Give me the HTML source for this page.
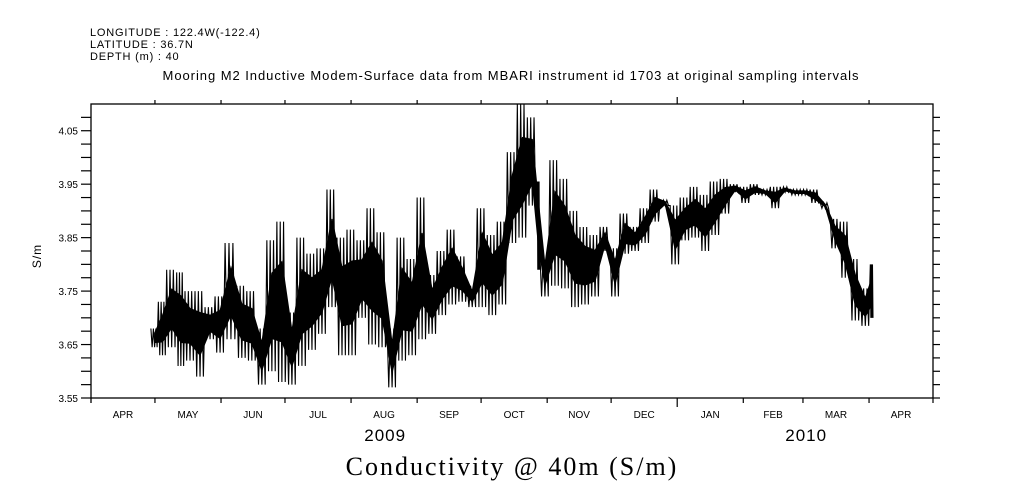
<!DOCTYPE html>
<html><head><meta charset="utf-8"><style>
html,body{margin:0;padding:0;background:#fff;}
svg{display:block;font-family:"Liberation Sans",sans-serif;}
</style></head><body>
<svg id="chart" width="1009" height="504" viewBox="0 0 1009 504" xmlns="http://www.w3.org/2000/svg">
<g font-size="11" fill="#000" letter-spacing="0.8">
<text x="90" y="36">LONGITUDE : 122.4W(-122.4)</text>
<text x="90" y="48">LATITUDE : 36.7N</text>
<text x="90" y="60">DEPTH (m) : 40</text>
</g>
<text x="511" y="80" font-size="13" text-anchor="middle" letter-spacing="0.95">Mooring M2 Inductive Modem-Surface data from MBARI instrument id 1703 at original sampling intervals</text>
<text transform="translate(41,256) rotate(-90)" font-size="12" text-anchor="middle" letter-spacing="1">S/m</text>
<text x="512" y="475" font-family="'Liberation Serif',serif" font-size="26" text-anchor="middle" letter-spacing="2">Conductivity @ 40m (S/m)</text>
<g id="axes"></g>
<g id="series"></g>
</svg>
<script>
const yTicks=[3.55,3.575,3.6,3.625,3.65,3.675,3.7,3.725,3.75,3.775,3.8,3.825,3.85,3.875,3.9,3.925,3.95,3.975,4.0,4.025,4.05,4.075];
const yLabels=["3.55","3.65","3.75","3.85","3.95","4.05"];
const monthLabels=["APR","MAY","JUN","JUL","AUG","SEP","OCT","NOV","DEC","JAN","FEB","MAR","APR"];
const monthDays=[30,31,30,31,31,30,31,30,31,31,28,31,30];
const yearLabels=["2009","2010"];
const days=[28.1,31.6,35.5,40.2,44.1,48.8,53.5,58.2,62.9,68.4,73.1,77.8,82.5,87.2,91.9,96.6,101.3,106.0,110.7,115.4,120.1,124.8,129.5,134.2,138.9,143.6,148.3,153.0,157.7,162.4,167.1,171.8,176.5,181.2,185.9,190.6,195.3,200.0,204.7,209.4,
210.6,215.3,220.0,224.7,229.4,234.1,238.8,243.5,248.2,252.9,257.6,262.3,267.0,271.7,276.4,281.1,285.8,290.5,295.2,299.9,304.6,309.3,314.0,318.7,323.3,328.0,332.7,337.4,342.1,346.8,351.5,356.2,360.9,365.6];
const hiVals=[3.68,3.73,3.79,3.785,3.75,3.75,3.72,3.74,3.84,3.76,3.75,3.68,3.845,3.88,3.71,3.85,3.82,3.83,3.94,3.85,3.865,3.845,3.905,3.86,3.68,3.85,3.81,3.925,3.78,3.825,3.865,3.815,3.76,3.905,3.855,3.88,4.01,4.10,4.075,3.955,
3.82,3.995,3.96,3.90,3.87,3.855,3.87,3.83,3.895,3.87,3.905,3.94,3.92,3.91,3.925,3.945,3.93,3.955,3.96,3.95,3.945,3.95,3.94,3.945,3.945,3.94,3.94,3.94,3.915,3.885,3.88,3.81,3.755,3.80];
const loVals=[3.645,3.63,3.645,3.61,3.62,3.59,3.66,3.635,3.66,3.625,3.62,3.575,3.60,3.58,3.575,3.61,3.64,3.67,3.72,3.63,3.63,3.70,3.65,3.645,3.57,3.62,3.63,3.66,3.67,3.705,3.725,3.73,3.72,3.72,3.705,3.725,3.84,3.85,3.91,3.79,
3.74,3.76,3.755,3.72,3.725,3.74,3.825,3.74,3.82,3.825,3.84,3.88,3.91,3.80,3.845,3.85,3.825,3.855,3.895,3.935,3.915,3.93,3.93,3.905,3.935,3.93,3.93,3.915,3.905,3.83,3.775,3.695,3.685,3.70];
const NS="http://www.w3.org/2000/svg";
const L=91,R=933,T=104,B=398,totalDays=395,yMin=3.55,yMax=4.10;
const xS=d=>L+(R-L)*d/totalDays;
const yS=v=>B-(B-T)*(v-yMin)/(yMax-yMin);
const axes=document.getElementById('axes'),series=document.getElementById('series');
function mk(tag,attrs,parent){const e=document.createElementNS(NS,tag);for(const k in attrs)e.setAttribute(k,attrs[k]);parent.appendChild(e);return e;}
const frame=mk('rect',{x:L,y:T,width:R-L,height:B-T,fill:'none',stroke:'#000','stroke-width':1.3},axes);


mk('line',{x1:L,y1:B,x2:L,y2:B+5,stroke:'#000','stroke-width':1.3},axes);
yTicks.forEach(v=>{
  const y=yS(v);
  const t=mk('line',{x1:L-10,y1:y,x2:L,y2:y,stroke:'#000','stroke-width':1.2},axes);
  
  
  const t2=mk('line',{x1:R,y1:y,x2:R+7,y2:y,stroke:'#000','stroke-width':1.2},axes);
  
  
});
yLabels.forEach(s=>{
  const tx=mk('text',{x:L-13,y:yS(parseFloat(s))+4,'font-size':10,'text-anchor':'end'},axes);
  tx.textContent=s;
  
  
});
let d=0;
monthLabels.forEach((m,i)=>{
  const x0=xS(d),x1=xS(d+monthDays[i]);
  if(i>0){
    const len=(i===9)?9:5;
    const t=mk('line',{x1:x0,y1:B,x2:x0,y2:B+len,stroke:'#000','stroke-width':1.2},axes);
    
    
    const tt=mk('line',{x1:x0,y1:T,x2:x0,y2:T-(i===9?7:4),stroke:'#000','stroke-width':1.2},axes);
    
    
  }
  const tx=mk('text',{x:(x0+x1)/2,y:418,'font-size':10,'text-anchor':'middle'},axes);
  tx.textContent=m;
  
  
  d+=monthDays[i];
});
mk('line',{x1:R,y1:B,x2:R,y2:B+5,stroke:'#000','stroke-width':1.2},axes);
const yearPos=[138,335.5];
yearLabels.forEach((s,i)=>{
  const tx=mk('text',{x:xS(yearPos[i]),y:441,'font-size':17,'text-anchor':'middle','letter-spacing':1},axes);
  tx.textContent=s;
  
  
});
// dense core band (smooth, through bin centres)
let up=[],dn=[];
for(let i=0;i<days.length;i++){
  const d0=days[i],d1=(i+1<days.length)?days[i+1]:days[i]+1.5;
  const mid=(hiVals[i]+loVals[i])/2,half=(hiVals[i]-loVals[i])/2*0.5;
  const xc=xS((d0+d1)/2).toFixed(2);
  up.push(xc+','+yS(mid+half).toFixed(2));
  dn.unshift(xc+','+yS(mid-half).toFixed(2));
}
const band=mk('polygon',{points:up.concat(dn).join(' '),fill:'#000',stroke:'#000','stroke-width':1},series);


let pts=[];
for(let i=0;i<days.length;i++){
  const d0=days[i],d1=(i+1<days.length)?days[i+1]:days[i]+1.5;
  const w=d1-d0;
  for(let k=0;k<6;k++){
    const v=(k%2===0)?hiVals[i]:loVals[i];
    pts.push(xS(d0+w*k/6).toFixed(2)+','+yS(v).toFixed(2));
  }
}
const line=mk('polyline',{points:pts.join(' '),fill:'none',stroke:'#000','stroke-width':1.1,'stroke-linejoin':'miter'},series);


</script>
</body></html>
